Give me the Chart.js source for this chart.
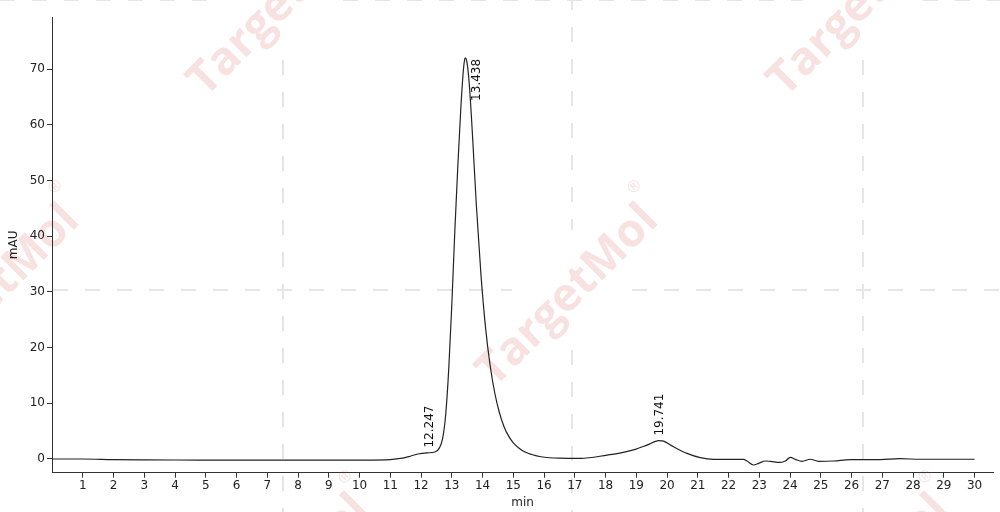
<!DOCTYPE html>
<html>
<head>
<meta charset="utf-8">
<script src="https://cdn.jsdelivr.net/npm/chart.js@4.4.1/dist/chart.umd.min.js"></script>
<style>
  html, body { margin: 0; padding: 0; background: #fff; }
  #wrap { width: 1000px; height: 512px; }
</style>
</head>
<body>
<div id="wrap"><canvas id="myChart" width="1000" height="512"></canvas></div>
<script>
// retention time (min) and signal (mAU)
var tempi = [0, 1, 2, 3, 4, 5, 6, 7, 8, 9, 10, 11, 11.4, 11.65, 11.9, 12.2, 12.45, 12.6, 12.7, 12.8,
  12.9, 13.0, 13.1, 13.2, 13.3, 13.37, 13.41, 13.44, 13.48, 13.52, 13.58, 13.68, 13.8, 13.95, 14.1,
  14.25, 14.4, 14.55, 14.7, 14.85, 15.0, 15.2, 15.4, 15.6, 15.9, 16.5, 17.2, 18.05, 18.5, 18.97,
  19.35, 19.73, 19.89, 20.21, 20.65, 21.08, 21.52, 22.0, 22.49, 22.6, 22.81, 22.98, 23.2, 23.36,
  23.68, 23.85, 24.01, 24.17, 24.39, 24.66, 24.93, 25.42, 25.96, 26.93, 27.58, 28.23, 29, 30];
var segnale = [0.0, 0.0, -0.1, -0.15, -0.18, -0.2, -0.22, -0.22, -0.22, -0.22, -0.2, -0.1, 0.15, 0.5,
  0.9, 1.1, 1.25, 2.0, 3.6, 7.8, 16, 27.5, 41, 53, 63.5, 69.3, 71.4, 72.0, 71.6, 70.2, 66.5, 57.5,
  45.5, 33, 23.5, 16.7, 11.8, 8.3, 5.8, 4.1, 2.9, 1.9, 1.2, 0.8, 0.4, 0.15, 0.12, 0.7, 1.1, 1.74,
  2.5, 3.3, 3.2, 2.2, 1.0, 0.24, -0.06, -0.06, -0.06, -0.36, -1.08, -0.78, -0.36, -0.42, -0.6,
  -0.36, 0.3, -0.06, -0.42, -0.05, -0.42, -0.36, -0.12, -0.12, 0.05, -0.05, -0.05, -0.05];

// picchi
var picchiTempo = [12.247, 13.438, 19.741];
var picchiAltezza = [1.15, 72.0, 3.3];
var picchiLabel = ['12.247', '13.438', '19.741'];

// tick labels
var xTicks = [1, 2, 3, 4, 5, 6, 7, 8, 9, 10, 11, 12, 13, 14, 15, 16, 17, 18, 19, 20,
  21, 22, 23, 24, 25, 26, 27, 28, 29, 30];
var yTicks = [0, 10, 20, 30, 40, 50, 60, 70];

var punti = [];
for (var i = 0; i < tempi.length; i++) {
  punti.push({ x: tempi[i], y: segnale[i] });
}

var font = "'DejaVu Sans', sans-serif";

// watermark TargetMol + linee tratteggiate
var filigrana = {
  id: 'filigrana',
  beforeDraw: function(chart) {
    var ctx = chart.ctx;
    ctx.save();
    ctx.strokeStyle = '#e6e6e6';
    ctx.lineWidth = 2;
    ctx.setLineDash([15, 17]);
    var linee = [
      [283, 60, 283, 520], [572, -5, 572, 230], [572, 350, 572, 520], [863, 60, 863, 520],
      [0, 0, 223, 0], [343, 0, 803, 0], [923, 0, 1000, 0],
      [53, 290, 512, 290], [632, 290, 1000, 290]
    ];
    for (var i = 0; i < linee.length; i++) {
      ctx.beginPath();
      ctx.moveTo(linee[i][0], linee[i][1]);
      ctx.lineTo(linee[i][2], linee[i][3]);
      ctx.stroke();
    }
    ctx.setLineDash([]);
    var centri = [[568, 296], [279, 6], [859, 6], [-11, 296], [279, 586], [859, 586]];
    ctx.fillStyle = 'rgba(225, 120, 120, 0.22)';
    ctx.textAlign = 'center';
    ctx.textBaseline = 'middle';
    for (var j = 0; j < centri.length; j++) {
      ctx.save();
      ctx.translate(centri[j][0], centri[j][1]);
      ctx.rotate(-Math.PI / 4);
      ctx.font = "bold 46px 'Open Sans', sans-serif";
      ctx.fillText('TargetMol', 0, 0);
      ctx.font = "16px 'Open Sans', sans-serif";
      ctx.fillText('\u00AE', 124, -30);
      ctx.restore();
    }
    ctx.restore();
  }
};

// etichette dei picchi, ruotate
var etichette = {
  id: 'etichette',
  afterDatasetsDraw: function(chart) {
    var ctx = chart.ctx;
    var sx = chart.scales.x;
    var sy = chart.scales.y;
    ctx.save();
    ctx.font = '12px ' + font;
    ctx.fillStyle = '#111';
    ctx.textBaseline = 'middle';
    for (var i = 0; i < picchiTempo.length; i++) {
      var px = sx.getPixelForValue(picchiTempo[i]);
      var py = sy.getPixelForValue(picchiAltezza[i]);
      ctx.save();
      if (picchiAltezza[i] > 50) {
        // picco principale: etichetta a destra dell'apice
        ctx.translate(px + 12, py + 1);
        ctx.rotate(-Math.PI / 2);
        ctx.textAlign = 'right';
      } else {
        ctx.translate(px + 1, py - 5);
        ctx.rotate(-Math.PI / 2);
        ctx.textAlign = 'left';
      }
      ctx.fillText(picchiLabel[i], 0, 0);
      ctx.restore();
    }
    ctx.restore();
  }
};

var ctx = document.getElementById('myChart');
var chart = new Chart(ctx, {
  type: 'line',
  data: {
    datasets: [{
      data: punti,
      borderColor: '#222',
      borderWidth: 1.2,
      pointRadius: 0,
      fill: false,
      cubicInterpolationMode: 'monotone'
    }]
  },
  options: {
    responsive: false,
    animation: false,
    events: [],
    layout: { padding: { top: 17, right: 7, left: 0, bottom: 0 } },
    plugins: {
      legend: { display: false },
      tooltip: { enabled: false }
    },
    scales: {
      x: {
        type: 'linear',
        min: 0,
        max: 30.6,
        afterBuildTicks: function(scale) {
          scale.ticks = xTicks.map(function(v) { return { value: v }; });
        },
        afterFit: function(scale) { scale.height = 39.3; },
        grid: { display: true, drawOnChartArea: false, drawTicks: true, tickLength: 5, color: '#333' },
        border: { display: true, color: '#333', width: 1 },
        ticks: { color: '#222', font: { family: font, size: 12 }, padding: 1, maxRotation: 0, autoSkip: false },
        title: { display: true, text: 'min', color: '#222', font: { family: font, size: 12 }, padding: { top: 0, bottom: 2 } }
      },
      y: {
        type: 'linear',
        min: -2.46,
        max: 79.34,
        afterBuildTicks: function(scale) {
          scale.ticks = yTicks.map(function(v) { return { value: v }; });
        },
        afterFit: function(scale) { scale.width = 52; },
        grid: { display: true, drawOnChartArea: false, drawTicks: true, tickLength: 5, color: '#333' },
        border: { display: true, color: '#333', width: 1 },
        ticks: { color: '#222', font: { family: font, size: 12 }, padding: 2 },
        title: { display: true, text: 'mAU', color: '#222', font: { family: font, size: 12 }, padding: { top: 7, bottom: 0 } }
      }
    }
  },
  plugins: [filigrana, etichette]
});
</script>
</body>
</html>
